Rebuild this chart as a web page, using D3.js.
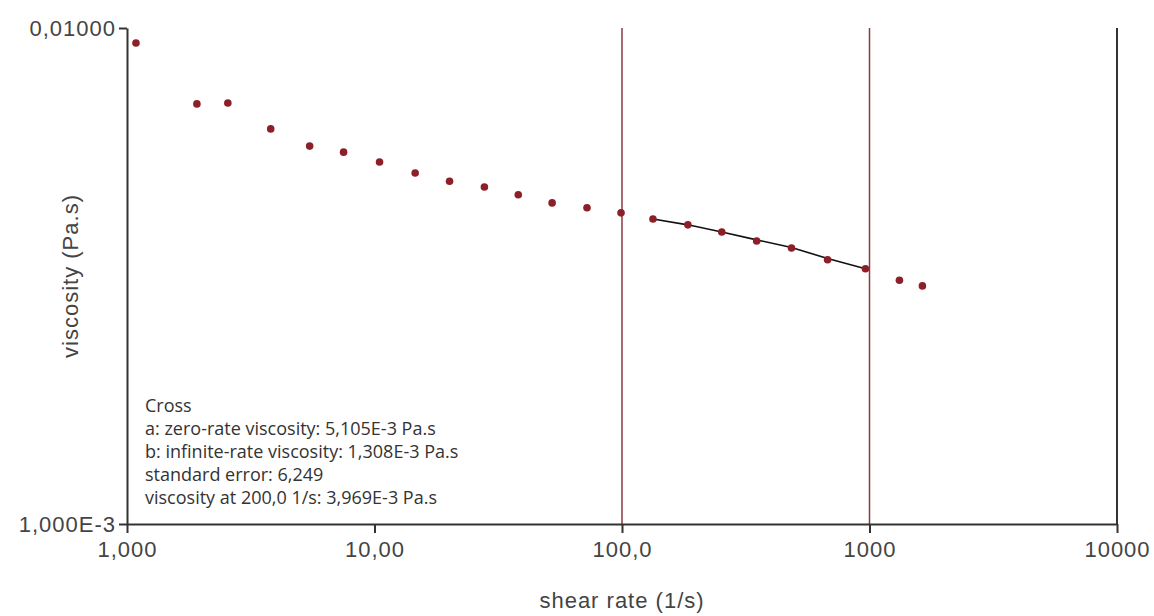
<!DOCTYPE html>
<html>
<head>
<meta charset="utf-8">
<script src="https://cdn.jsdelivr.net/npm/d3@7"></script>
<style>
  html, body { margin: 0; padding: 0; background: #fff; }
  svg { display: block; }
</style>
</head>
<body>
<svg id="chart" width="1154" height="616"></svg>
<script>
// Measured flow curve: shear rate (1/s) vs viscosity (Pa.s)
const shearRate = [1.087, 1.916, 2.555, 3.808, 5.47, 7.50, 10.48, 14.6, 20.1, 27.8, 38.1, 52.2, 72.2, 99.1,
                   133.4, 184.6, 253, 350, 484, 677, 963, 1321, 1636];
const viscosity = [0.00933, 0.00703, 0.00706, 0.00626, 0.00578, 0.00562, 0.00537, 0.00510, 0.00491, 0.00478,
                   0.00461, 0.00444, 0.00434, 0.00424, 0.00412, 0.00401, 0.00388, 0.00372, 0.00360, 0.00341,
                   0.00327, 0.00310, 0.00302];

// Cross model fit over the selected range
const fitRate = [133.4, 184.6, 253, 350, 484, 677, 963];
const fitVisc = [0.00412, 0.00401, 0.00388, 0.00374, 0.00361, 0.00343, 0.00327];

// Fit range limits
const rangeLimits = [100, 1000];

// Axis ticks
const xTickValues = [1, 10, 100, 1000, 10000];
const xTickLabels = ["1,000", "10,00", "100,0", "1000", "10000"];
const yTickValues = [0.001, 0.01];
const yTickLabels = ["1,000E-3", "0,01000"];

const annotation = [
  "Cross",
  "a: zero-rate viscosity: 5,105E-3 Pa.s",
  "b: infinite-rate viscosity: 1,308E-3 Pa.s",
  "standard error: 6,249",
  "viscosity at 200,0 1/s: 3,969E-3 Pa.s"
];

const svg = d3.select("#chart");
const plotLeft = 127, plotRight = 1117, plotTop = 28, plotBottom = 524;

const x = d3.scaleLog().domain([1, 10000]).range([plotLeft, plotRight]);
const y = d3.scaleLog().domain([0.001, 0.01]).range([plotBottom, plotTop]);

const axisColor = "#333";
const labelFont = "'Liberation Sans', Arial, sans-serif";

function styleLabel(sel) {
  sel.attr("fill", "#444")
    .style("font-family", labelFont)
    .style("font-size", "22px")
    .style("letter-spacing", "1px");
}

// Fit range markers
svg.append("g").selectAll("line").data(rangeLimits).join("line")
  .attr("x1", d => x(d)).attr("x2", d => x(d))
  .attr("y1", plotTop).attr("y2", plotBottom)
  .attr("stroke", "#8a3a40").attr("stroke-width", 1.5);

// Right frame line
svg.append("line")
  .attr("x1", x(10000)).attr("x2", x(10000))
  .attr("y1", plotTop).attr("y2", plotBottom)
  .attr("stroke", axisColor).attr("stroke-width", 2);

// Bottom axis
const xAxis = d3.axisBottom(x)
  .tickValues(xTickValues)
  .tickFormat((d, i) => xTickLabels[i])
  .tickSize(9).tickSizeOuter(0).tickPadding(8);
const gx = svg.append("g").attr("transform", `translate(0,${plotBottom})`).call(xAxis);
gx.select(".domain").attr("stroke", axisColor).attr("stroke-width", 2);
gx.selectAll(".tick line").attr("stroke", axisColor).attr("stroke-width", 2);
gx.selectAll(".tick text").call(styleLabel);

// Left axis
const yAxis = d3.axisLeft(y)
  .tickValues(yTickValues)
  .tickFormat((d, i) => yTickLabels[i])
  .tickSize(8).tickSizeOuter(0).tickPadding(3);
const gy = svg.append("g").attr("transform", `translate(${plotLeft},0)`).call(yAxis);
gy.select(".domain").attr("stroke", axisColor).attr("stroke-width", 2);
gy.selectAll(".tick line").attr("stroke", axisColor).attr("stroke-width", 2);
gy.selectAll(".tick text").call(styleLabel);

// Axis titles
svg.append("text")
  .attr("x", (plotLeft + plotRight) / 2).attr("y", 608)
  .attr("text-anchor", "middle")
  .call(styleLabel)
  .text("shear rate (1/s)");

svg.append("text")
  .attr("transform", `translate(78,${(plotTop + plotBottom) / 2}) rotate(-90)`)
  .attr("text-anchor", "middle")
  .call(styleLabel)
  .text("viscosity (Pa.s)");

// Fit curve
const line = d3.line().x(d => x(d[0])).y(d => y(d[1]));
svg.append("path")
  .datum(fitRate.map((r, i) => [r, fitVisc[i]]))
  .attr("d", line)
  .attr("fill", "none").attr("stroke", "#111").attr("stroke-width", 1.6);

// Data points
svg.append("g").selectAll("circle")
  .data(shearRate.map((r, i) => [r, viscosity[i]]))
  .join("circle")
  .attr("cx", d => x(d[0])).attr("cy", d => y(d[1]))
  .attr("r", 3.8)
  .attr("fill", "#8c1f28");

// Fit result annotation
svg.append("g").selectAll("text").data(annotation).join("text")
  .attr("x", 145).attr("y", (d, i) => 412 + i * 23)
  .attr("fill", "#333")
  .style("font-family", "'Open Sans', 'Noto Sans', sans-serif")
  .style("font-size", "18px")
  .text(d => d);
</script>
</body>
</html>
